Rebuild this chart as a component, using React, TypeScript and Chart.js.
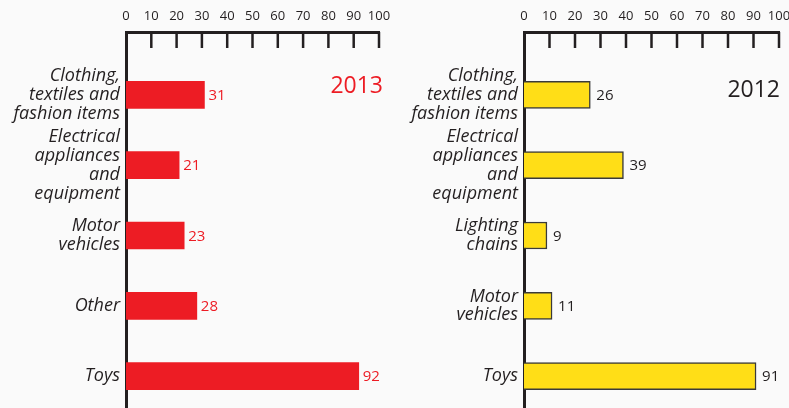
import React, { useEffect, useRef } from 'react';
import { Chart, registerables } from 'chart.js';
Chart.register(...registerables);

const categories2013: string[][] = [
  ['Clothing,', 'textiles and', 'fashion items'],
  ['Electrical', 'appliances', 'and', 'equipment'],
  ['Motor', 'vehicles'],
  ['Other'],
  ['Toys'],
];
const values2013 = [31, 21, 23, 28, 92];

const categories2012: string[][] = [
  ['Clothing,', 'textiles and', 'fashion items'],
  ['Electrical', 'appliances', 'and', 'equipment'],
  ['Lighting', 'chains'],
  ['Motor', 'vehicles'],
  ['Toys'],
];
const values2012 = [26, 39, 9, 11, 91];

const xTickValues = [0, 10, 20, 30, 40, 50, 60, 70, 80, 90, 100];
const yearLeft = '2013';
const yearRight = '2012';

const INK = '#231f20';
const FONT = '"Open Sans", "DejaVu Sans", sans-serif';

const decorPlugin = {
  id: 'decor',
  afterDatasetsDraw(chart: any, _args: any, opts: any) {
    const { ctx, chartArea } = chart;
    const x = chart.scales.x;
    ctx.save();
    ctx.strokeStyle = INK;
    ctx.lineWidth = 2.5;
    xTickValues.forEach((v) => {
      if (v === 0) return;
      const px = x.getPixelForValue(v);
      ctx.beginPath();
      ctx.moveTo(px, chartArea.top);
      ctx.lineTo(px, chartArea.top + 16);
      ctx.stroke();
    });
    const meta = chart.getDatasetMeta(0);
    ctx.font = `15px ${FONT}`;
    ctx.fillStyle = opts.valueColor;
    ctx.textBaseline = 'middle';
    ctx.textAlign = 'left';
    meta.data.forEach((bar: any, i: number) => {
      ctx.fillText(String(opts.values[i]), bar.x + opts.valueGap, bar.y + 1);
    });
    ctx.font = `23px ${FONT}`;
    ctx.fillStyle = opts.yearColor;
    ctx.textAlign = 'right';
    ctx.fillText(opts.year, chartArea.right + opts.yearDx, opts.yearY);
    ctx.restore();
  },
};

type PanelProps = {
  labels: string[][];
  values: number[];
  fill: string;
  borderColor: string;
  borderWidth: number;
  valueColor: string;
  valueGap: number;
  year: string;
  yearColor: string;
  yearDx: number;
  yearY: number;
  yAxisWidth: number;
  padRight: number;
  width: number;
  left: number;
};

function Panel(p: PanelProps) {
  const ref = useRef<HTMLCanvasElement | null>(null);
  useEffect(() => {
    if (!ref.current) return;
    const chart = new Chart(ref.current, {
      type: 'bar',
      data: {
        datasets: [
          {
            data: p.values.map((v, i) => ({ x: v, y: i })) as any,
            backgroundColor: p.fill,
            borderColor: p.borderColor,
            borderWidth: p.borderWidth,
            barThickness: 27,
          },
        ],
      },
      options: {
        indexAxis: 'y',
        responsive: false,
        animation: false,
        layout: { padding: { left: 0, right: p.padRight, top: 0, bottom: 0 } },
        plugins: {
          legend: { display: false },
          tooltip: { enabled: false },
          decor: {
            values: p.values,
            valueColor: p.valueColor,
            valueGap: p.valueGap,
            year: p.year,
            yearColor: p.yearColor,
            yearDx: p.yearDx,
            yearY: p.yearY,
          },
        } as any,
        scales: {
          x: {
            type: 'linear',
            position: 'top',
            bounds: 'data',
            offset: false,
            min: 0,
            max: 100,
            afterBuildTicks: (s: any) => {
              s.ticks = xTickValues.map((v) => ({ value: v }));
            },
            ticks: {
              autoSkip: false,
              maxRotation: 0,
              padding: 8,
              color: INK,
              font: { family: FONT, size: 13 },
            },
            grid: { display: false, drawTicks: false },
            border: { display: true, width: 3, color: INK },
            afterFit: (s: any) => {
              s.height = 32;
              s.paddingLeft = 0;
              s.paddingRight = 0;
            },
          },
          y: {
            type: 'linear',
            reverse: true,
            bounds: 'data',
            offset: false,
            min: -0.893,
            max: 4.452,
            afterBuildTicks: (s: any) => {
              s.ticks = p.labels.map((_, i) => ({ value: i }));
            },
            ticks: {
              autoSkip: false,
              padding: 6,
              color: INK,
              font: { family: FONT, size: 18, style: 'italic', lineHeight: 1.05 },
              callback: (v: any) => p.labels[v] ?? '',
            },
            grid: { display: false, drawTicks: false, offset: false },
            border: { display: true, width: 3, color: INK },
            afterFit: (s: any) => {
              s.width = p.yAxisWidth;
              s.paddingTop = 0;
              s.paddingBottom = 0;
            },
          },
        },
      },
      plugins: [decorPlugin],
    });
    return () => chart.destroy();
  }, []);
  return (
    <canvas
      ref={ref}
      width={p.width}
      height={408}
      style={{ position: 'absolute', left: p.left, top: 0, display: 'block' }}
    />
  );
}

export default function App() {
  return (
    <div
      style={{
        position: 'absolute',
        left: 0,
        top: 0,
        width: 789,
        height: 408,
        overflow: 'hidden',
        background: '#fafafa',
      }}
    >
      <Panel
        labels={categories2013}
        values={values2013}
        fill="#ed1c24"
        borderColor="#ed1c24"
        borderWidth={0}
        valueColor="#ed1c24"
        valueGap={4}
        year={yearLeft}
        yearColor="#ed1c24"
        yearDx={4}
        yearY={86}
        yAxisWidth={126}
        padRight={15}
        width={394}
        left={0}
      />
      <Panel
        labels={categories2012}
        values={values2012}
        fill="#ffde17"
        borderColor="#3a3a3a"
        borderWidth={1.5}
        valueColor={INK}
        valueGap={6}
        year={yearRight}
        yearColor={INK}
        yearDx={1}
        yearY={90}
        yAxisWidth={130}
        padRight={15}
        width={400}
        left={394}
      />
    </div>
  );
}
